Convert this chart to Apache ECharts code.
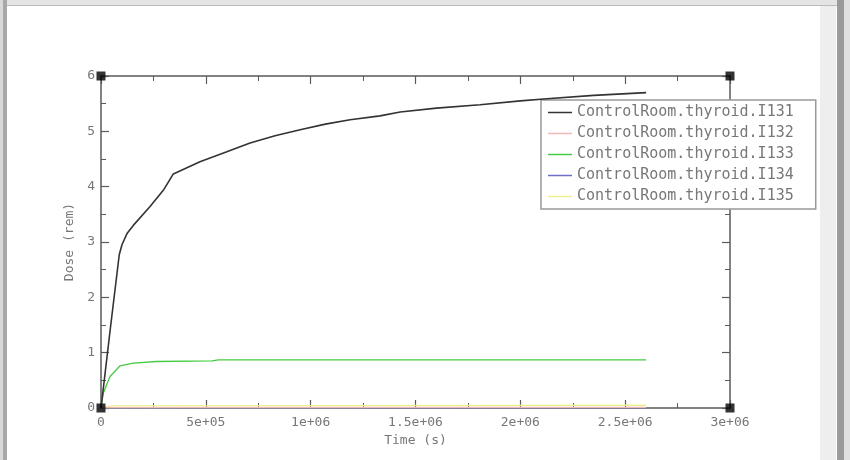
<!DOCTYPE html>
<html>
<head>
<meta charset="utf-8">
<script src="https://cdn.jsdelivr.net/npm/echarts@6/dist/echarts.min.js"></script>
<style>
html,body{margin:0;padding:0;background:#fff;}
#chart{width:850px;height:460px;}
</style>
</head>
<body>
<div id="chart"></div>
<script>
// ---- data ----
const seriesNames = ['ControlRoom.thyroid.I131','ControlRoom.thyroid.I132','ControlRoom.thyroid.I133','ControlRoom.thyroid.I134','ControlRoom.thyroid.I135'];
const seriesColors = ['#333333','#f2b8b8','#44cc44','#6f6fc8','#f0ef90'];
const i131 = [[0,0],[45000,1.45],[87000,2.77],[100000,2.95],[125000,3.16],[154000,3.3],[234000,3.64],[300000,3.95],[345000,4.23],[472000,4.45],[600000,4.63],[711000,4.79],[830000,4.92],[950000,5.03],[1070000,5.13],[1188000,5.21],[1331000,5.28],[1427000,5.35],[1600000,5.42],[1808000,5.48],[2000000,5.55],[2127000,5.59],[2350000,5.65],[2600000,5.70]];
const i132 = [[0,0],[50000,0.008],[2600000,0.01]];
const i133 = [[0,0],[11000,0.27],[43000,0.57],[90000,0.76],[154000,0.81],[266000,0.84],[530000,0.85],[560000,0.87],[1000000,0.87],[2600000,0.87]];
const i134 = [[0,0],[50000,0.002],[2600000,0.003]];
const i135 = [[0,0],[50000,0.04],[2600000,0.05]];
const xTickLabels = ['0','5e+05','1e+06','1.5e+06','2e+06','2.5e+06','3e+06'];
const cornerPoints = [[0,0],[0,6],[3000000,0],[3000000,6]];

const seriesData = [i131,i132,i133,i134,i135];
const font = 'DejaVu Sans Mono';
const axisGray = '#5a5a5a';
const labelGray = '#777';

const chart = echarts.init(document.getElementById('chart'));

const baseX = {
  type:'value', min:0, max:3000000, interval:500000,
  axisLine:{show:true, onZero:false, lineStyle:{color:axisGray, width:1.5}},
  axisTick:{show:true, inside:true, length:8, lineStyle:{color:axisGray, width:1.2}},
  minorTick:{show:true, splitNumber:2, length:5, lineStyle:{color:axisGray, width:1}},
  splitLine:{show:false}
};
const baseY = {
  type:'value', min:0, max:6, interval:1,
  axisLine:{show:true, onZero:false, lineStyle:{color:axisGray, width:1.5}},
  axisTick:{show:true, inside:true, length:8, lineStyle:{color:axisGray, width:1.2}},
  minorTick:{show:true, splitNumber:2, length:5, lineStyle:{color:axisGray, width:1}},
  splitLine:{show:false}
};

const series = seriesNames.map((n,i)=>({
  name:n, type:'line', data:seriesData[i], showSymbol:false, symbol:'none',
  lineStyle:{color:seriesColors[i], width: i===0 ? 1.6 : 1.3},
  itemStyle:{color:seriesColors[i]},
  z: 10 - i, animation:false
}));
series.push({
  name:'corners', type:'scatter', data:cornerPoints, symbol:'rect', symbolSize:9,
  itemStyle:{color:'#000'}, z:20, silent:true, animation:false
});

chart.setOption({
  animation:false,
  backgroundColor:'#fff',
  grid:{left:101, right:120, top:76, bottom:52},
  xAxis:[
    Object.assign({}, baseX, {
      position:'bottom', name:'Time (s)', nameLocation:'middle', nameGap:24,
      nameTextStyle:{fontFamily:font, fontSize:13, color:labelGray},
      axisLabel:{show:true, margin:8, fontFamily:font, fontSize:13, color:labelGray,
        formatter:(v)=>xTickLabels[Math.round(v/500000)]}
    }),
    Object.assign({}, baseX, {position:'top', axisLabel:{show:false}})
  ],
  yAxis:[
    Object.assign({}, baseY, {
      position:'left', name:'Dose (rem)', nameLocation:'middle', nameGap:22,
      nameTextStyle:{fontFamily:font, fontSize:13, color:labelGray},
      axisLabel:{show:true, margin:6, fontFamily:font, fontSize:13, color:labelGray}
    }),
    Object.assign({}, baseY, {position:'right', axisLabel:{show:false}})
  ],
  legend:{
    data:seriesNames.map((n,i)=>({name:n, icon:'rect'})),
    orient:'vertical', left:541, top:100,
    itemWidth:24, itemHeight:1.5, itemGap:6,
    padding:[5,22,5,7],
    backgroundColor:'#fff', borderColor:'#999', borderWidth:1.5,
    textStyle:{fontFamily:font, fontSize:15, color:labelGray, lineHeight:15},
    selectedMode:false
  },
  series:series,
  graphic:[
    {type:'rect', shape:{x:0,y:0,width:850,height:5}, style:{fill:'#e4e4e4'}, silent:true},
    {type:'rect', shape:{x:0,y:5,width:850,height:1}, style:{fill:'#bbb'}, silent:true},
    {type:'rect', shape:{x:0,y:0,width:3,height:460}, style:{fill:'#d8d8d8'}, silent:true},
    {type:'rect', shape:{x:3,y:0,width:4,height:460}, style:{fill:'#a8a8a8'}, silent:true},
    {type:'rect', shape:{x:820,y:6,width:16,height:454}, style:{fill:'#eeeeee'}, silent:true},
    {type:'rect', shape:{x:837,y:0,width:7,height:460}, style:{fill:'#9a9a9a'}, silent:true},
    {type:'rect', shape:{x:844,y:0,width:6,height:460}, style:{fill:'#e0e0e0'}, silent:true}
  ]
});
</script>
</body>
</html>
